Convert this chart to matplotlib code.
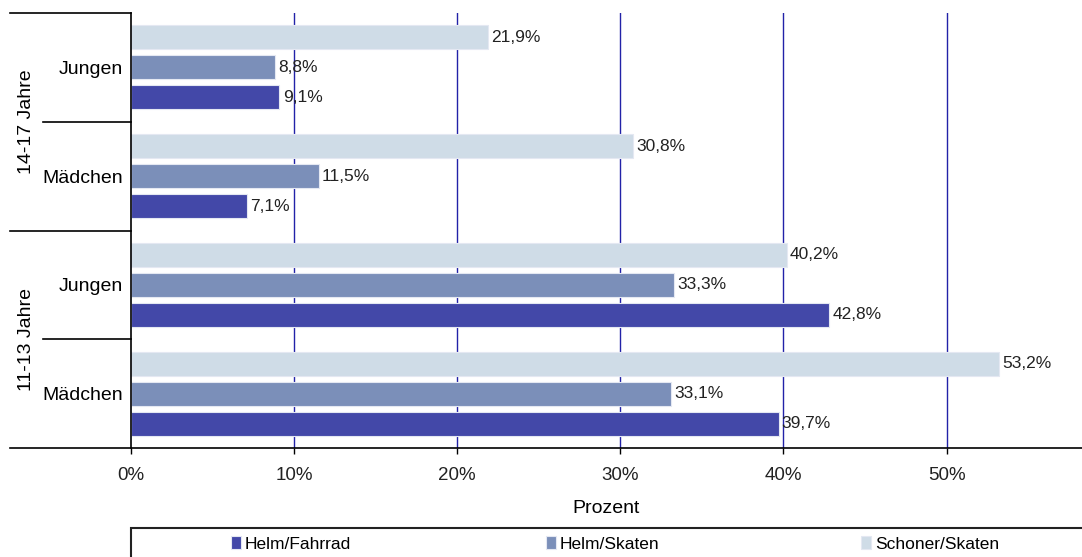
import matplotlib.pyplot as plt
import matplotlib.transforms as mtransforms
from matplotlib.patches import Rectangle
from matplotlib.lines import Line2D

plt.rcParams['font.family'] = ['Liberation Sans', 'DejaVu Sans']

# data, top to bottom
groups = ['14-17 Jahre', '11-13 Jahre']
rows = ['Jungen', 'Mädchen', 'Jungen', 'Mädchen']
series = ['Schoner/Skaten', 'Helm/Skaten', 'Helm/Fahrrad']
schoner_skaten = [21.9, 30.8, 40.2, 53.2]
helm_skaten = [8.8, 11.5, 33.3, 33.1]
helm_fahrrad = [9.1, 7.1, 42.8, 39.7]
xticks = [0, 10, 20, 30, 40, 50]

colors = {'Schoner/Skaten': '#cfdce7', 'Helm/Skaten': '#7b8fb9', 'Helm/Fahrrad': '#4348a8'}
grid_col = '#2222a8'

W, H = 1082, 557
fig = plt.figure(figsize=(W / 100, H / 100), dpi=100)
ax = fig.add_axes([131 / W, 1 - 448 / H, 1 - 131 / W, (448 - 13) / H])

ypos = list(range(len(rows)))
offs = [-0.276, 0.0, 0.276]
bars = {}
for name, vals, off in zip(series, [schoner_skaten, helm_skaten, helm_fahrrad], offs):
    yy = [y + off for y in ypos]
    bars[name] = ax.barh(yy, vals, height=0.22, color=colors[name],
                         edgecolor='#e4e8f2', linewidth=0.8, zorder=2)
    for y, v in zip(yy, vals):
        ax.text(v + 0.2, y, f'{v:.1f}%'.replace('.', ','), va='center', ha='left',
                fontsize=12.5, color='#222222')

ax.set_ylim(3.5, -0.5)
ax.set_xlim(0, 58.3)
ax.set_xticks(xticks)
ax.set_xticklabels([f'{t}%' for t in xticks], fontsize=13.5, color='#222222')
ax.set_yticks(ypos)
ax.set_yticklabels(rows, fontsize=14)
ax.tick_params(axis='y', length=0, pad=5.5)
ax.tick_params(axis='x', length=4, width=1, pad=10)
for i, t in enumerate(ax.xaxis.get_major_ticks()):
    t.tick1line.set_color('black' if i == 0 else grid_col)
for x in xticks[1:]:
    ax.axvline(x, color=grid_col, lw=1, zorder=1)

for s in ['top', 'right', 'bottom']:
    ax.spines[s].set_visible(False)
ax.spines['left'].set_color('black')
ax.spines['left'].set_linewidth(1.2)

ax.set_xlabel('Prozent', fontsize=14, labelpad=11)

# separator lines in the label area
tr = mtransforms.blended_transform_factory(fig.transFigure, ax.transAxes)
for yf, x0 in [(1.0, 10), (0.75, 43), (0.5, 10), (0.25, 43)]:
    fig.add_artist(Line2D([x0 / W, 131 / W], [yf, yf], transform=tr, color='black', lw=1.2))
fig.add_artist(Line2D([10 / W, 1.0], [0, 0], transform=tr, color='black', lw=1.2))

# group labels
for g, yc in zip(groups, [0.75, 0.25]):
    fig.text(27 / W, 0, g, rotation=90, ha='center', va='center', fontsize=14,
             transform=tr).set_y(yc)

# legend box
fig.add_artist(Rectangle((131 / W, -0.05), 1.0, (H - 528) / H + 0.05, transform=fig.transFigure,
                         fill=False, edgecolor='#222222', lw=1.5))
for name, xl in zip(['Helm/Fahrrad', 'Helm/Skaten', 'Schoner/Skaten'], [231, 546, 861]):
    fig.legend([bars[name]], [name], loc='center left', bbox_to_anchor=(xl / W, 1 - 544 / H),
               frameon=False, handlelength=0.55, handleheight=0.8,
               handletextpad=0.25, borderpad=0, borderaxespad=0,
               prop={'family': ['Liberation Sans Narrow', 'Liberation Sans'], 'size': 12.5})

fig.savefig('out.png', dpi=100)
